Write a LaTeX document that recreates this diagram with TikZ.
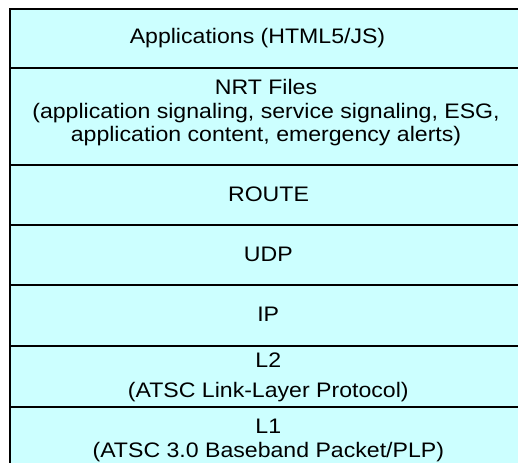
\documentclass[tikz,border=0pt]{standalone}
\usepackage{fontspec}
\setmainfont[FakeStretch=1.1]{Liberation Sans}
\definecolor{layerfill}{RGB}{204,255,255}
\begin{document}
\begin{tikzpicture}[x=1bp,y=-1bp,
  layer/.style={draw=black, fill=layerfill, line width=2bp},
  lbl/.style={anchor=base, inner sep=0pt, font=\fontsize{21bp}{24bp}\selectfont}]
\useasboundingbox (0,0) rectangle (518,463);
\clip (0,0) rectangle (518,463);
\draw[layer] (10,9) rectangle (530,68);
\draw[layer] (10,68) rectangle (530,165);
\draw[layer] (10,165) rectangle (530,225.5);
\draw[layer] (10,225.5) rectangle (530,285);
\draw[layer] (10,285) rectangle (530,346);
\draw[layer] (10,346) rectangle (530,406.5);
\draw[layer] (10,406.5) rectangle (530,480);
\node[lbl] (apps) at (257.5,44) {Applications (HTML5/JS)};
\node[lbl] (nrt1) at (266,95) {NRT Files};
\node[lbl] (nrt2) at (266,118.5) {(application signaling, service signaling, ESG,};
\node[lbl] (nrt3) at (266,142) {application content, emergency alerts)};
\node[lbl] (route) at (268.5,201.5) {ROUTE};
\node[lbl] (udp) at (268.3,261) {UDP};
\node[lbl] (ip) at (268.2,321.5) {IP};
\node[lbl] (l2a) at (268.3,367.5) {L2};
\node[lbl] (l2b) at (268.3,397.3) {(ATSC Link-Layer Protocol)};
\node[lbl] (l1a) at (268.3,433.3) {L1};
\node[lbl] (l1b) at (268.3,457.3) {(ATSC 3.0 Baseband Packet/PLP)};
\end{tikzpicture}
\end{document}
